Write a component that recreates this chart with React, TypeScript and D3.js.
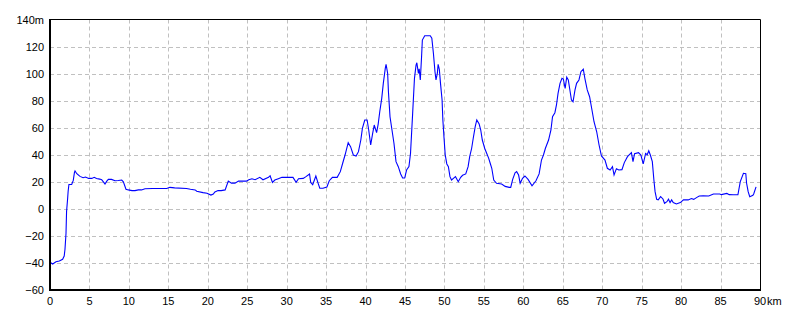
import React from "react";
import * as d3 from "d3";

const distanceKm: number[] = [
  0, 0.34, 0.76, 1.18, 1.6, 1.8, 1.9, 2.03, 2.1, 2.24, 2.3, 2.4, 2.75, 2.95, 3.1, 3.17, 3.4, 3.8, 4.2, 4.5,
  4.9, 5.3, 5.6, 5.9, 6.3, 6.55, 6.97, 7.2, 7.4, 7.8, 8.24, 8.66, 9.09, 9.3, 9.63, 9.93, 10.4, 10.77, 11.2, 11.6,
  12.04, 13, 14.8, 15.2, 15.8, 17.3, 17.8, 18.4, 18.6, 19.4, 19.9, 20.4, 20.7, 20.9, 21.3, 21.7, 22.2, 22.6, 23.0, 23.45,
  23.9, 24.9, 25.2, 25.6, 26.0, 26.6, 27.0, 27.7, 27.9, 28.2, 28.5, 28.94, 29.4, 30.8, 31.2, 31.5, 32.1, 32.45, 32.9, 33.05,
  33.3, 33.7, 34.0, 34.2, 34.6, 35.1, 35.4, 35.8, 36.4, 36.8, 37.1, 37.4, 37.8, 38.1, 38.45, 38.8, 39.1, 39.4, 39.6, 39.9,
  40.2, 40.4, 40.65, 40.9, 41.1, 41.4, 41.6, 41.8, 42.05, 42.25, 42.5, 42.6, 42.8, 42.9, 43.1, 43.35, 43.6, 43.86, 44.15, 44.45,
  44.7, 44.96, 45.2, 45.5, 45.7, 45.97, 46.2, 46.4, 46.5, 46.7, 46.8, 46.94, 47.1, 47.2, 47.5, 48.2, 48.4, 48.6, 48.8, 48.93,
  49.1, 49.2, 49.35, 49.5, 49.7, 49.8, 49.95, 50.1, 50.3, 50.5, 50.7, 50.9, 51.1, 51.4, 51.75, 52.06, 52.3, 52.7, 53.0, 53.2,
  53.45, 53.65, 53.9, 54.1, 54.4, 54.6, 54.8, 55.1, 55.35, 55.6, 55.8, 56.0, 56.25, 56.6, 57.25, 57.7, 58.2, 58.4, 58.65, 58.95,
  59.15, 59.4, 59.6, 59.9, 60.2, 60.6, 61.1, 61.6, 62.0, 62.3, 62.55, 62.8, 63.2, 63.5, 63.7, 64.0, 64.2, 64.4, 64.65, 64.9,
  65.07, 65.3, 65.5, 65.7, 65.9, 66.1, 66.3, 66.55, 66.75, 67.05, 67.3, 67.6, 67.8, 68.1, 68.4, 68.7, 68.96, 69.3, 69.6, 69.9,
  70.35, 70.65, 71.0, 71.3, 71.5, 71.8, 72.1, 72.5, 72.8, 73.2, 73.7, 73.9, 74.1, 74.6, 74.9, 75.2, 75.5, 75.7, 75.9, 76.1,
  76.35, 76.55, 76.7, 76.9, 77.1, 77.4, 77.7, 77.9, 78.2, 78.4, 78.6, 78.8, 79.0, 79.4, 79.9, 80.3, 80.9, 81.3, 81.6, 82.0,
  82.3, 82.8, 83.5, 84.1, 84.9, 85.1, 85.8, 86.1, 86.6, 87.2, 87.5, 87.9, 88.2, 88.3, 88.5, 88.7, 89.1, 89.2, 89.5,
];

const elevationM: number[] = [
  -39.5, -40.8, -39.1, -38.6, -37.3, -34.9, -29.9, -18, -2, 8, 13, 18, 18, 21, 27, 28, 26, 24, 23, 23.5,
  22.5, 22.5, 23.3, 22.5, 22, 21.5, 18.4, 20.5, 21.8, 21.8, 20.8, 21, 21.3, 20, 14.5, 14, 13.5, 13.5, 14, 14,
  14.9, 15, 15, 15.9, 15.5, 15, 14.5, 14, 13, 12, 11.5, 10.2, 11, 12.5, 13.5, 13.5, 14, 20.6, 19, 19,
  20.5, 20.5, 21.5, 22.2, 21.5, 23.3, 21.5, 23.3, 24.5, 19.5, 21.3, 22.3, 23.3, 23.3, 19.6, 22.3, 22.5, 23.8, 25.8, 19.4,
  17.9, 24.3, 18.7, 15.2, 15.2, 16.2, 20.8, 23.3, 23.3, 27.5, 33.7, 39.8, 48.9, 46, 39.8, 39, 42.3, 50.9, 59.5, 65.7,
  65.7, 58.3, 47.2, 55.8, 62, 56.3, 62.7, 71.8, 81.7, 92.8, 103.9, 106.9, 100.2, 86.6, 68.1, 58.3, 48.5, 34.9, 31.2, 25.8,
  22.8, 22.8, 28.7, 31.2, 41.1, 70.6, 96.5, 106.3, 108, 100.2, 103.5, 95.3, 112.5, 124.8, 128, 128, 126.1, 115, 101.4, 95.3,
  100.2, 106.9, 103.2, 92.8, 80.5, 65.7, 52.2, 39.8, 33.2, 31.2, 23.8, 21.3, 22.3, 23.8, 20.1, 23.3, 24.8, 25.8, 31.2, 38.6,
  44.8, 52.2, 60.8, 65.7, 62.7, 58.3, 50.9, 44.8, 41.1, 37.5, 33.7, 30, 21.3, 18.9, 18.4, 16.6, 15.9, 15.9, 21.8, 26.7,
  27.5, 25, 18.9, 22.6, 24.3, 21.8, 17.1, 20.8, 25.8, 36.1, 39.8, 44.8, 50.9, 58.3, 68.1, 71.1, 76.8, 85.4, 92.8, 96.5,
  96, 89.1, 97.3, 95.3, 87.9, 80.5, 79.2, 87.9, 92.8, 95.3, 101.4, 103.2, 96.5, 87.9, 82.9, 73.1, 64.4, 57, 47.2, 39.1,
  36.1, 30, 28.7, 31.2, 25, 29.7, 28.7, 29, 34.2, 38.6, 41.5, 34.9, 40.8, 41.5, 39.8, 33.2, 41, 40, 43, 39.8,
  34.9, 21.3, 12.7, 7.1, 6.6, 9, 7.3, 4.1, 5.3, 7.1, 4.6, 6.6, 4.6, 3.6, 4.6, 6.6, 6.6, 7.6, 7, 8.5,
  9.5, 9.6, 9.5, 11, 11, 10.5, 11.4, 10.5, 10.4, 10.4, 20.1, 26.3, 26, 18.9, 12.7, 9, 10, 11, 16.3,
];

const xTicks: number[] = [0, 5, 10, 15, 20, 25, 30, 35, 40, 45, 50, 55, 60, 65, 70, 75, 80, 85, 90];
const yTicks: number[] = [-60, -40, -20, 0, 20, 40, 60, 80, 100, 120, 140];

const W = 800;
const H = 320;
const left = 50;
const right = 760;
const top = 19.5;
const bottom = 290;

export default function App() {
  const x = d3.scaleLinear().domain([0, 90]).range([left, right]);
  const y = d3.scaleLinear().domain([-60, 140]).range([bottom, top]);
  const pts: [number, number][] = distanceKm.map((d, i) => [d, elevationM[i]]);
  const line = d3
    .line<[number, number]>()
    .x((d) => x(d[0]))
    .y((d) => y(d[1]));
  const font = "'Liberation Sans', Arial, sans-serif";
  return (
    <svg
      width={W}
      height={H}
      style={{ position: "absolute", left: 0, top: 0, background: "#fff" }}
    >
      <rect x={0} y={0} width={W} height={H} fill="#fff" />
      {xTicks
        .filter((t) => t > 0 && t < 90)
        .map((t) => (
          <line
            key={"gx" + t}
            x1={Math.round(x(t)) + 0.5}
            x2={Math.round(x(t)) + 0.5}
            y1={top}
            y2={bottom}
            stroke="#c0c0c0"
            strokeWidth={1}
            strokeDasharray="4,3"
          />
        ))}
      {yTicks
        .filter((t) => t > -60 && t < 140)
        .map((t) => (
          <line
            key={"gy" + t}
            x1={left}
            x2={right}
            y1={Math.round(y(t)) + 0.5}
            y2={Math.round(y(t)) + 0.5}
            stroke="#c0c0c0"
            strokeWidth={1}
            strokeDasharray="4,3"
          />
        ))}
      <path d={line(pts) || ""} fill="none" stroke="#0000ff" strokeWidth={1.1} />
      <line x1={left} x2={right + 0.5} y1={top} y2={top} stroke="#000" strokeWidth={1} />
      <line x1={right + 0.5} x2={right + 0.5} y1={top} y2={bottom} stroke="#000" strokeWidth={1} />
      <line x1={left} x2={left} y1={top - 0.5} y2={bottom + 1} stroke="#000" strokeWidth={2} />
      <line x1={left - 1} x2={right + 1} y1={bottom} y2={bottom} stroke="#000" strokeWidth={2} />
      {yTicks.map((t) => (
        <text
          key={"ly" + t}
          x={44}
          y={y(t) + 4}
          textAnchor="end"
          fontFamily={font}
          fontSize={11}
          fill="#000"
        >
          {t === 140 ? "140m" : t < 0 ? "\u2212" + Math.abs(t) : String(t)}
        </text>
      ))}
      {xTicks.map((t) => (
        <text
          key={"lx" + t}
          x={x(t)}
          y={305}
          textAnchor="middle"
          fontFamily={font}
          fontSize={11}
          fill="#000"
        >
          {String(t)}
        </text>
      ))}
      <text x={x(90) + 7} y={305} textAnchor="start" fontFamily={font} fontSize={11} fill="#000">
        km
      </text>
    </svg>
  );
}
